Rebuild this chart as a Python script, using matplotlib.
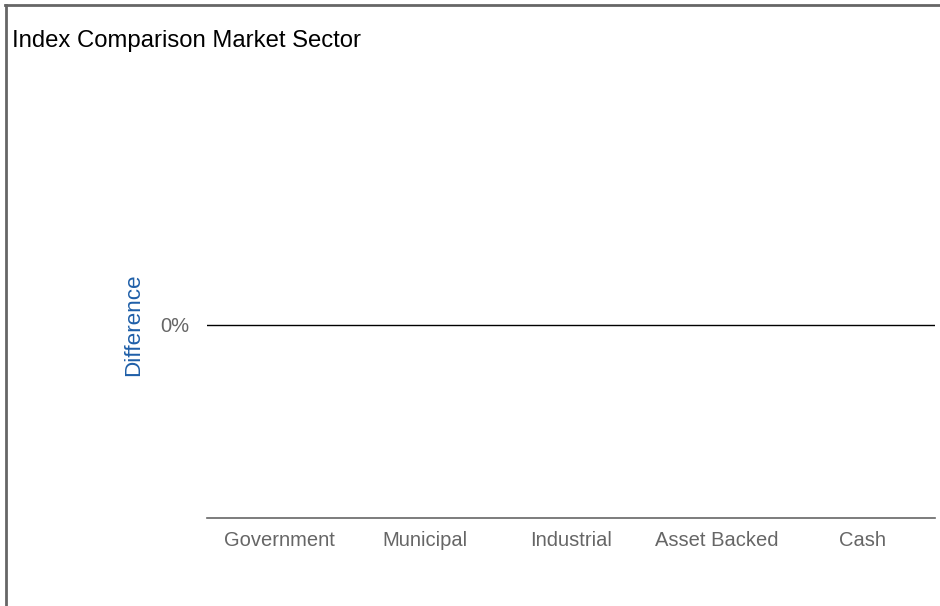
import matplotlib
matplotlib.use("Agg")
import matplotlib.pyplot as plt
from matplotlib.lines import Line2D

plt.rcParams['font.family'] = ['Liberation Sans', 'DejaVu Sans']

categories = ["Government", "Municipal", "Industrial", "Asset Backed", "Cash"]
differences = [0, 0, 0, 0, 0]
y_ticks = [0]
y_tick_labels = ["0%"]

W, H = 940, 606
fig = plt.figure(figsize=(W / 100, H / 100), dpi=100)
ax = fig.add_axes([207 / W, 1 - 518 / H, (935 - 207) / W, (518 - 132) / H])

x = list(range(len(categories)))
ax.bar(x, differences, width=0.6, color="#1f5fa8")
ax.axhline(0, color="#000000", lw=1)
ax.set_xlim(-0.5, len(categories) - 0.5)
ax.set_ylim(-1, 1)
ax.set_xticks(x)
ax.set_xticklabels(categories, color="#666666", fontsize=14.5)
ax.set_yticks(y_ticks)
ax.set_yticklabels(y_tick_labels, color="#666666", fontsize=14.5)
ax.tick_params(axis="x", length=0, pad=9)
ax.tick_params(axis="y", length=0, pad=13)
for s in ["top", "right", "left"]:
    ax.spines[s].set_visible(False)
ax.spines["bottom"].set_color("#666666")
ax.spines["bottom"].set_linewidth(1.2)
ax.set_ylabel("Difference", color="#1f5fa8", fontsize=16.2, labelpad=11)

fig.text(12 / W, 1 - 41 / H, "Index Comparison Market Sector", fontsize=17.2,
         color="#000000", va="center", ha="left")

fig.add_artist(Line2D([5 / W, 1], [1 - 5 / H, 1 - 5 / H], color="#666666", lw=2,
                      transform=fig.transFigure))
fig.add_artist(Line2D([6 / W, 6 / W], [1 - 5 / H, 0], color="#666666", lw=2,
                      transform=fig.transFigure))

fig.savefig("out.png", dpi=100)
